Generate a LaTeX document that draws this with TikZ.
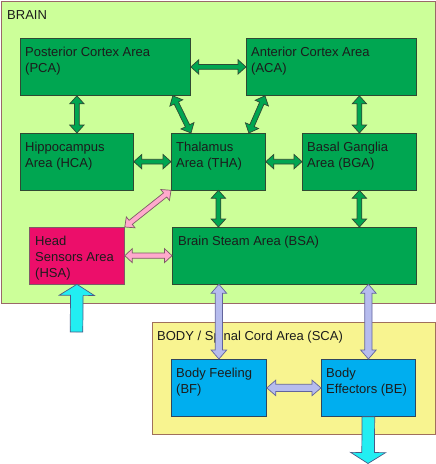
\documentclass[tikz,border=0pt]{standalone}
\usepackage{fontspec}
\setmainfont{Liberation Sans}
\usetikzlibrary{calc}
\definecolor{BrainFill}{HTML}{CCFF99}
\definecolor{BrainEdge}{HTML}{9A6868}
\definecolor{BodyFill}{HTML}{F8F490}
\definecolor{BodyEdge}{HTML}{A0705C}
\definecolor{AreaGreen}{HTML}{00A651}
\definecolor{AreaEdge}{HTML}{2F4A33}
\definecolor{SenseRed}{HTML}{EC0E6A}
\definecolor{LinkPink}{HTML}{FFAACC}
\definecolor{PinkEdge}{HTML}{7E5A66}
\definecolor{BodyBlue}{HTML}{00AEEF}
\definecolor{BlueEdge}{HTML}{2E4660}
\definecolor{LinkLav}{HTML}{B6BCEE}
\definecolor{LavEdge}{HTML}{62649C}
\definecolor{IoCyan}{HTML}{22EEF2}
\definecolor{CyanEdge}{HTML}{4A5A86}
\definecolor{TextDark}{HTML}{1C1C1C}

\tikzset{
  head len/.store in=\headlen,
  head half/.store in=\headhalf,
  shaft half/.store in=\shafthalf,
  head len=8pt, head half=7pt, shaft half=2.5pt
}

% block arrow with a head at both ends
\newcommand{\twoway}[3]{%
  \path (#2) coordinate (tw-a) (#3) coordinate (tw-b);
  \draw[#1] (tw-a)
    -- ($(tw-a)!\headlen!(tw-b)!\headhalf!90:(tw-b)$)
    -- ($(tw-a)!\headlen!(tw-b)!\shafthalf!90:(tw-b)$)
    -- ($(tw-b)!\headlen!(tw-a)!\shafthalf!-90:(tw-a)$)
    -- ($(tw-b)!\headlen!(tw-a)!\headhalf!-90:(tw-a)$)
    -- (tw-b)
    -- ($(tw-b)!\headlen!(tw-a)!\headhalf!90:(tw-a)$)
    -- ($(tw-b)!\headlen!(tw-a)!\shafthalf!90:(tw-a)$)
    -- ($(tw-a)!\headlen!(tw-b)!\shafthalf!-90:(tw-b)$)
    -- ($(tw-a)!\headlen!(tw-b)!\headhalf!-90:(tw-b)$)
    -- cycle;
}
% block arrow with one head
\newcommand{\oneway}[3]{%
  \path (#2) coordinate (ow-a) (#3) coordinate (ow-b);
  \draw[#1] ($(ow-a)!\shafthalf!90:(ow-b)$)
    -- ($(ow-b)!\headlen!(ow-a)!\shafthalf!-90:(ow-a)$)
    -- ($(ow-b)!\headlen!(ow-a)!\headhalf!-90:(ow-a)$)
    -- (ow-b)
    -- ($(ow-b)!\headlen!(ow-a)!\headhalf!90:(ow-a)$)
    -- ($(ow-b)!\headlen!(ow-a)!\shafthalf!90:(ow-a)$)
    -- ($(ow-a)!\shafthalf!-90:(ow-b)$)
    -- cycle;
}

\begin{document}
\begin{tikzpicture}[
  x=1pt, y=-1pt,
  region/.style={rectangle,draw,line width=0.8pt,inner sep=0pt,anchor=north west},
  area/.style={region,draw=AreaEdge,fill=AreaGreen},
  limb/.style={region,draw=BlueEdge,fill=BodyBlue},
  tag/.style={anchor=north west,align=left,inner xsep=5pt,inner ysep=9.3pt,
              font=\fontsize{13pt}{16pt}\selectfont,text=TextDark},
  greenlink/.style={fill=AreaGreen,draw=AreaEdge,line width=0.7pt,
                    head len=8pt,head half=7.2pt,shaft half=2.4pt},
  pinklink/.style={fill=LinkPink,draw=PinkEdge,line width=0.7pt,
                   head len=7.5pt,head half=7pt,shaft half=2.6pt},
  lavlink/.style={fill=LinkLav,draw=LavEdge,line width=0.7pt,
                  head len=9pt,head half=7.8pt,shaft half=3.6pt},
  iolink/.style={fill=IoCyan,draw=CyanEdge,line width=0.7pt,
                 head len=11pt,head half=17.5pt,shaft half=6.3pt}
]
  \useasboundingbox (0,0) rectangle (436,464);

  % containers
  \node[region,draw=BrainEdge,fill=BrainFill,minimum width=434pt,minimum height=301.5pt,
        label={[tag,name=brain-tag,inner xsep=6pt]north west:BRAIN}] (brain) at (1,1) {};
  \node[region,draw=BodyEdge,fill=BodyFill,minimum width=283pt,minimum height=112pt,
        label={[tag,name=body-tag]north west:BODY / Spinal Cord Area (SCA)}] (body) at (152,322) {};

  % brain areas
  \node[area,minimum width=170pt,minimum height=57pt,
        label={[tag,name=pca-tag]north west:{Posterior Cortex Area\\(PCA)}}] (pca) at (20,38) {};
  \node[area,minimum width=170pt,minimum height=57pt,
        label={[tag,name=aca-tag]north west:{Anterior Cortex Area\\(ACA)}}] (aca) at (246,38) {};
  \node[area,minimum width=113pt,minimum height=56.5pt,
        label={[tag,name=hca-tag]north west:{Hippocampus\\Area (HCA)}}] (hca) at (20,133) {};
  \node[area,minimum width=94pt,minimum height=56.5pt,
        label={[tag,name=tha-tag]north west:{Thalamus\\Area (THA)}}] (tha) at (171,133) {};
  \node[area,minimum width=114pt,minimum height=56.5pt,
        label={[tag,name=bga-tag]north west:{Basal Ganglia\\Area (BGA)}}] (bga) at (302,133) {};
  \node[region,draw=PinkEdge,fill=SenseRed,minimum width=95pt,minimum height=56.5pt,
        label={[tag,name=hsa-tag,inner xsep=6pt]north west:{Head\\Sensors Area\\(HSA)}}] (hsa) at (29,227) {};
  \node[area,minimum width=244pt,minimum height=56.5pt,
        label={[tag,name=bsa-tag,inner xsep=6pt]north west:{Brain Steam Area (BSA)}}] (bsa) at (172,227) {};

  % body parts
  \node[limb,minimum width=95pt,minimum height=57pt,
        label={[tag,name=bf-tag]north west:{Body Feeling\\(BF)}}] (bf) at (171,359) {};
  \node[limb,minimum width=94pt,minimum height=57pt,
        label={[tag,name=be-tag]north west:{Body\\Effectors (BE)}}] (be) at (321,359) {};

  \coordinate (sensein) at (76.5,332);
  \coordinate (motorout) at (368,463.5);

  % connectors
  \twoway{greenlink}{pca.east}{aca.west}
  \twoway{greenlink}{pca.south -| hca.north}{hca.north}
  \twoway{greenlink}{$(pca.south east)+(-18,0)$}{$(tha.north west)+(20,0)$}
  \twoway{greenlink}{$(aca.south west)+(19,0)$}{$(tha.north east)+(-17,0)$}
  \twoway{greenlink}{aca.south -| bga.north}{bga.north}
  \twoway{greenlink}{hca.east}{tha.west}
  \twoway{greenlink}{tha.east}{bga.west}
  \twoway{greenlink}{tha.south}{tha.south |- bsa.north}
  \twoway{greenlink}{bga.south}{bga.south |- bsa.north}
  \twoway{pinklink}{tha.south west}{hsa.north east}
  \twoway{pinklink}{hsa.east}{bsa.west}
  \twoway{lavlink}{bsa.south -| bf.north}{bf.north}
  \twoway{lavlink}{bsa.south -| be.north}{be.north}
  \twoway{lavlink}{bf.east}{be.west}
  \oneway{iolink}{sensein}{hsa.south}
  \oneway{iolink}{be.south}{motorout}
\end{tikzpicture}
\end{document}
